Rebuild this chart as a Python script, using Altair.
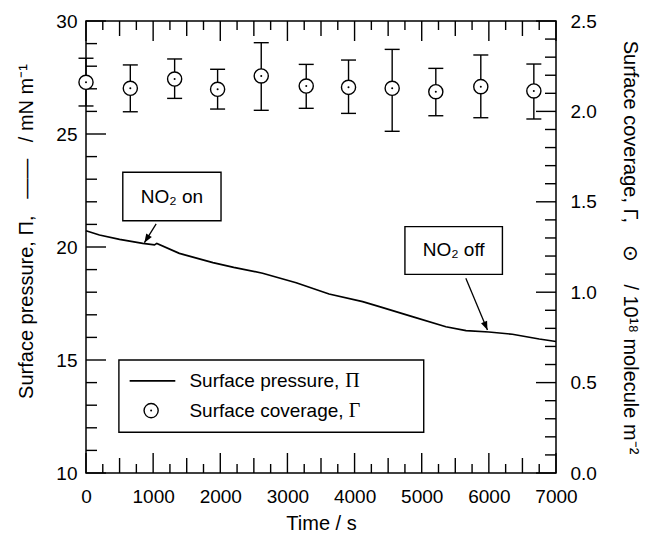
import altair as alt
import pandas as pd

# ---------------- data ----------------
# Surface pressure trace (Pi, mN m^-1) vs time (s)
time_s = [0, 200, 500, 845, 1020, 1055, 1390, 1890, 2200, 2630, 3130, 3620,
          4120, 4370, 4860, 5360, 5660, 6000, 6350, 6750, 7000]
pressure = [20.72, 20.53, 20.34, 20.16, 20.09, 20.16, 19.72, 19.31, 19.10,
            18.84, 18.42, 17.92, 17.58, 17.36, 16.92, 16.47, 16.30, 16.24,
            16.14, 15.93, 15.82]

# Surface coverage (Gamma, 1e18 molecule m^-2) with error bars
cov_t = [0, 660, 1320, 1960, 2610, 3280, 3910, 4560, 5210, 5880, 6670]
cov = [2.161, 2.128, 2.179, 2.122, 2.196, 2.140, 2.133, 2.128, 2.109, 2.137, 2.113]
cov_hi = [2.294, 2.257, 2.290, 2.233, 2.380, 2.260, 2.284, 2.343, 2.238, 2.312, 2.262]
cov_lo = [2.030, 1.998, 2.072, 2.013, 2.006, 2.017, 1.989, 1.890, 1.976, 1.965, 1.958]

# axis tick values
x_labels = [0, 1000, 2000, 3000, 4000, 5000, 6000, 7000]
x_mid = [500, 1500, 2500, 3500, 4500, 5500, 6500]
x_minor = [250, 750, 1250, 1750, 2250, 2750, 3250, 3750, 4250, 4750, 5250,
           5750, 6250, 6750]
yl_labels = [10, 15, 20, 25, 30]
yl_minor = [11, 12, 13, 14, 16, 17, 18, 19, 21, 22, 23, 24, 26, 27, 28, 29]
yr_labels = [0.0, 0.5, 1.0, 1.5, 2.0, 2.5]
yr_minor = [0.1, 0.2, 0.3, 0.4, 0.6, 0.7, 0.8, 0.9, 1.1, 1.2, 1.3, 1.4,
            1.6, 1.7, 1.8, 1.9, 2.1, 2.2, 2.3, 2.4]

# annotations (data coordinates: time, pressure)
note_text = ["NO\u2082 on", "NO\u2082 off"]
note_box_t = [548, 4750]
note_box_t2 = [2011, 6202]
note_box_p = [23.31, 20.90]
note_box_p2 = [21.16, 18.79]
note_text_t = [1280, 5476]
note_text_p = [22.23, 19.85]
arrow_t = [1045, 5657]
arrow_p = [21.02, 18.62]
arrow_t2 = [870, 5979]
arrow_p2 = [20.19, 16.33]
arrow_angle = [212, 157]

# legend (data coordinates)
legend_labels = ["Surface pressure,", "Surface coverage,"]
legend_greek = ["\u03a0", "\u0393"]
legend_greek_t = [3860, 3915]
legend_box = {"t": 490, "t2": 5030, "p": 15.0, "p2": 11.8}
legend_row_p = [14.08, 12.76]
legend_text_t = 1540
legend_line_t = [650, 1330]
legend_sym_t = 970

NB = "\u00a0"  # non-breaking space (SVG collapses ordinary runs of spaces)
X_TITLE = "Time / s"
YL_TITLE = ("Surface pressure, \u03a0," + NB * 3 + "\u2014\u2014" + NB * 3 +
            "/ mN m\u207b\u00b9")
YR_TITLE = ("Surface coverage, \u0393," + NB * 4 + "\u2299" + NB * 4 +
            "/ 10\u00b9\u2078 molecule m\u207b\u00b2")

# ---------------- chart ----------------
W, H = 470, 452
FONT = "Liberation Sans"
common = dict(ticks=False, tickSize=0, domain=False, grid=False, labelFlush=False,
              labelFont=FONT, labelFontSize=19, labelColor="black",
              titleFont=FONT, titleFontSize=20, titleFontWeight="normal",
              titleColor="black")

xs = alt.Scale(domain=[0, 7000], nice=False, zero=False)
ysp = alt.Scale(domain=[10, 30], nice=False, zero=False)
ysg = alt.Scale(domain=[0, 2.5], nice=False, zero=False)

df_line = pd.DataFrame({"t": time_s, "p": pressure})
df_cov = pd.DataFrame({"t": cov_t, "g": cov, "lo": cov_lo, "hi": cov_hi})

X_AX = alt.Axis(title=X_TITLE, values=x_labels, format="d", labelPadding=14,
                titlePadding=7, orient="bottom", **common)
YL_AX = alt.Axis(title=YL_TITLE, values=yl_labels, format="d", labelPadding=9,
                 titlePadding=19, titleY=210, orient="left", **common)
YR_AX = alt.Axis(title=YR_TITLE, values=yr_labels, format=".1f", labelPadding=14,
                 titlePadding=23, orient="right", **common)


def X(field):
    return alt.X(field, scale=xs, axis=X_AX, title=X_TITLE)


def YP(field):
    return alt.Y(field, scale=ysp, axis=YL_AX, title=YL_TITLE)


def YG(field):
    return alt.Y(field, scale=ysg, axis=YR_AX, title=YR_TITLE)


def xticks(vals, length):
    d = pd.DataFrame({"t": vals})
    bottom = alt.Chart(d).mark_rule(color="black", strokeWidth=1.4).encode(
        x=X("t:Q"), y=alt.value(H), y2=alt.value(H - length))
    top = alt.Chart(d).mark_rule(color="black", strokeWidth=1.4).encode(
        x=X("t:Q"), y=alt.value(0), y2=alt.value(length))
    return [bottom, top]


def yticks(vals, length, ych, side):
    d = pd.DataFrame({"v": vals})
    if side == "left":
        xe = dict(x=alt.value(0), x2=alt.value(length))
    else:
        xe = dict(x=alt.value(W), x2=alt.value(W - length))
    return alt.Chart(d).mark_rule(color="black", strokeWidth=1.4).encode(
        y=ych("v:Q"), **xe)


# ---- pressure side layers ----
line = alt.Chart(df_line).mark_line(color="black", strokeWidth=1.7).encode(
    x=X("t:Q"), y=YP("p:Q"))

df_notes = pd.DataFrame({
    "label": note_text, "bt": note_box_t, "bt2": note_box_t2,
    "bp": note_box_p, "bp2": note_box_p2, "tt": note_text_t, "tp": note_text_p,
    "at": arrow_t, "ap": arrow_p, "at2": arrow_t2, "ap2": arrow_p2,
    "ang": arrow_angle})

note_boxes = alt.Chart(df_notes).mark_rect(fill="white", stroke="black",
                                           strokeWidth=1.4).encode(
    x=X("bt:Q"), x2="bt2:Q", y=YP("bp:Q"), y2="bp2:Q")
note_texts = alt.Chart(df_notes).mark_text(font=FONT, fontSize=19, color="black",
                                           align="center", baseline="middle").encode(
    x=X("tt:Q"), y=YP("tp:Q"), text="label:N")
arrows = alt.Chart(df_notes).mark_rule(color="black", strokeWidth=1.3).encode(
    x=X("at:Q"), x2="at2:Q", y=YP("ap:Q"), y2="ap2:Q")
heads = alt.Chart(df_notes).mark_point(
    shape="M0,0 L0.38,1 L-0.38,1 Z", filled=True, color="black", size=300,
    opacity=1).encode(
    x=X("at2:Q"), y=YP("ap2:Q"), angle=alt.Angle("ang:Q", scale=None))

df_leg = pd.DataFrame({"t": [legend_box["t"]], "t2": [legend_box["t2"]],
                       "p": [legend_box["p"]], "p2": [legend_box["p2"]]})
leg_box = alt.Chart(df_leg).mark_rect(fill="white", stroke="black",
                                      strokeWidth=1.4).encode(
    x=X("t:Q"), x2="t2:Q", y=YP("p:Q"), y2="p2:Q")
df_leg_text = pd.DataFrame({"label": legend_labels, "p": legend_row_p,
                            "t": [legend_text_t] * 2,
                            "g": legend_greek, "gt": legend_greek_t})
leg_text = alt.Chart(df_leg_text).mark_text(font=FONT, fontSize=19, color="black",
                                            align="left", baseline="middle").encode(
    x=X("t:Q"), y=YP("p:Q"), text="label:N")
leg_greek = alt.Chart(df_leg_text).mark_text(font="Liberation Serif", fontSize=20,
                                             color="black", align="left",
                                             baseline="middle").encode(
    x=X("gt:Q"), y=YP("p:Q"), text="g:N")
df_leg_line = pd.DataFrame({"t": [legend_line_t[0]], "t2": [legend_line_t[1]],
                            "p": [legend_row_p[0]]})
leg_line = alt.Chart(df_leg_line).mark_rule(color="black", strokeWidth=1.7).encode(
    x=X("t:Q"), x2="t2:Q", y=YP("p:Q"))
df_leg_sym = pd.DataFrame({"t": [legend_sym_t], "p": [legend_row_p[1]]})
leg_sym = alt.Chart(df_leg_sym).mark_point(shape="circle", filled=True, fill="white",
                                           stroke="black", strokeWidth=1.4, size=200,
                                           opacity=1).encode(
    x=X("t:Q"), y=YP("p:Q"))
leg_dot = alt.Chart(df_leg_sym).mark_point(shape="circle", filled=True, color="black",
                                           size=4, opacity=1).encode(
    x=X("t:Q"), y=YP("p:Q"))

pressure_layers = [line, yticks(yl_labels, 20, YP, "left"),
                   yticks(yl_minor, 11, YP, "left"),
                   note_boxes, note_texts, arrows, heads,
                   leg_box, leg_line, leg_text, leg_greek, leg_sym, leg_dot]
pressure_layers += xticks(x_labels, 20) + xticks(x_mid, 15) + xticks(x_minor, 9)

# ---- coverage side layers ----
bars = alt.Chart(df_cov).mark_rule(color="black", strokeWidth=1.4).encode(
    x=X("t:Q"), y=YG("lo:Q"), y2="hi:Q")
cap_lo = alt.Chart(df_cov).mark_tick(orient="horizontal", size=15, thickness=1.4,
                                     color="black", opacity=1).encode(
    x=X("t:Q"), y=YG("lo:Q"))
cap_hi = alt.Chart(df_cov).mark_tick(orient="horizontal", size=15, thickness=1.4,
                                     color="black", opacity=1).encode(
    x=X("t:Q"), y=YG("hi:Q"))
circles = alt.Chart(df_cov).mark_point(shape="circle", filled=True, fill="white",
                                       stroke="black", strokeWidth=1.4, size=200,
                                       opacity=1).encode(
    x=X("t:Q"), y=YG("g:Q"))
dots = alt.Chart(df_cov).mark_point(shape="circle", filled=True, color="black",
                                    size=4, opacity=1).encode(
    x=X("t:Q"), y=YG("g:Q"))

coverage_layers = [bars, cap_lo, cap_hi, circles, dots,
                   yticks(yr_labels, 20, YG, "right"),
                   yticks(yr_minor, 11, YG, "right")]

chart = alt.layer(
    alt.layer(*pressure_layers),
    alt.layer(*coverage_layers),
).resolve_scale(y="independent").properties(
    width=W, height=H,
    padding={"left": 78, "top": 13, "right": 86, "bottom": 59},
    autosize=alt.AutoSizeParams(type="none"),
    background="white",
).configure_view(stroke="black", strokeWidth=1.5)

chart.save("out.html", embed_options={"renderer": "svg", "actions": False})
